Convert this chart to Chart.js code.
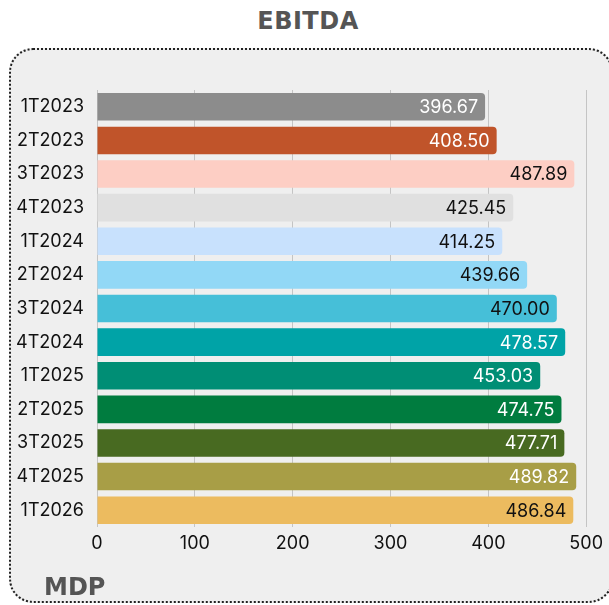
<!DOCTYPE html>
<html>
<head>
<meta charset="utf-8">
<script src="https://cdn.jsdelivr.net/npm/chart.js@4"></script>
<style>
  html, body { margin: 0; padding: 0; background: #ffffff; overflow: hidden; }
  #wrap { position: relative; width: 609px; height: 605px; }
  #panel {
    position: absolute; left: 9px; top: 48px; width: 604px; height: 555px;
    box-sizing: border-box; border: 2px dotted #222; border-radius: 24px;
    background: #efefef;
  }
  #title {
    position: absolute; left: 0; top: 7px; width: 616px; text-align: center;
    font-family: "DejaVu Sans", sans-serif; font-weight: bold; font-size: 24px;
    color: #555555; letter-spacing: 0.5px;
  }
  #brand {
    position: absolute; left: 44px; top: 573px;
    font-family: "DejaVu Sans", sans-serif; font-weight: bold; font-size: 24px;
    color: #555555;
  }
  #chart { position: absolute; left: 0; top: 0; }
</style>
</head>
<body>
<div id="wrap">
  <div id="panel"></div>
  <div id="title">EBITDA</div>
  <canvas id="chart" width="609" height="605"></canvas>
  <div id="brand">MDP</div>
</div>
<script>
const quarters = ['1T2023', '2T2023', '3T2023', '4T2023', '1T2024', '2T2024', '3T2024',
                  '4T2024', '1T2025', '2T2025', '3T2025', '4T2025', '1T2026'];
const ebitda = [396.67, 408.50, 487.89, 425.45, 414.25, 439.66, 470.00,
                478.57, 453.03, 474.75, 477.71, 489.82, 486.84];
const barColors = ['#8c8c8c', '#c0542a', '#fdcec4', '#e0e0e0', '#c8e1fd', '#92d8f6', '#46bfd8',
                   '#00a3a7', '#008e75', '#007c3f', '#486a21', '#a89e46', '#ecbb5f'];
const labelColors = ['#ffffff', '#ffffff', '#111111', '#111111', '#111111', '#111111', '#111111',
                     '#ffffff', '#ffffff', '#ffffff', '#ffffff', '#ffffff', '#111111'];
const xTicks = [0, 100, 200, 300, 400, 500];

// Writes each value inside the end of its bar
const valueLabels = {
  id: 'valueLabels',
  afterDatasetsDraw(chart) {
    const ctx = chart.ctx;
    const meta = chart.getDatasetMeta(0);
    ctx.save();
    ctx.font = '18px Inter, sans-serif';
    ctx.textAlign = 'right';
    ctx.textBaseline = 'middle';
    meta.data.forEach((bar, i) => {
      ctx.fillStyle = labelColors[i];
      ctx.fillText(ebitda[i].toFixed(2), bar.x - 7, bar.y + 1);
    });
    ctx.restore();
  }
};

new Chart(document.getElementById('chart'), {
  type: 'bar',
  data: {
    labels: quarters,
    datasets: [{
      data: ebitda,
      backgroundColor: barColors,
      borderRadius: 4,
      borderSkipped: 'start',
      categoryPercentage: 1,
      barPercentage: 0.82
    }]
  },
  options: {
    indexAxis: 'y',
    responsive: false,
    animation: false,
    layout: { padding: { left: 0, top: 90, right: 21, bottom: 48 } },
    plugins: { legend: { display: false }, tooltip: { enabled: false } },
    scales: {
      x: {
        min: 0, max: 500,
        afterBuildTicks(scale) { scale.ticks = xTicks.map(v => ({ value: v })); },
        afterFit(scale) { scale.height = 30; },
        grid: { color: '#c4c4c4', drawTicks: false, lineWidth: 1 },
        border: { display: false },
        ticks: { color: '#111111', padding: 6, font: { family: 'Inter', size: 18 } }
      },
      y: {
        afterFit(scale) { scale.width = 97; },
        grid: { display: false, drawTicks: false },
        border: { display: false },
        ticks: { color: '#111111', padding: 13, font: { family: 'Inter', size: 18 } }
      }
    }
  },
  plugins: [valueLabels]
});
</script>
</body>
</html>
